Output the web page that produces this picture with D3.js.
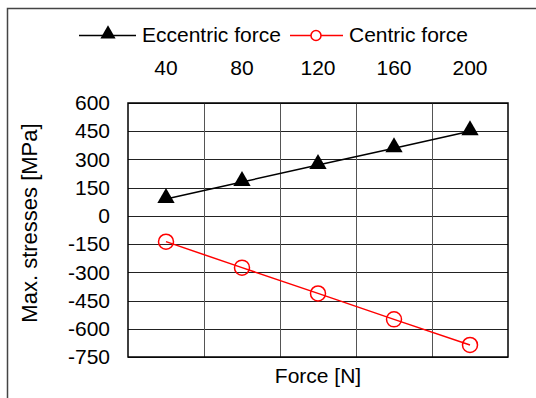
<!DOCTYPE html>
<html lang="en">
<head>
<meta charset="UTF-8">
<title>Max. stresses vs force</title>
<script src="https://d3js.org/d3.v7.min.js"></script>
<style>
    body { margin: 0; padding: 0; background: #fff; }
    svg { display: block; font-family: "Liberation Sans", Arial, sans-serif; }
    .tick text { font-size: 21px; fill: #000; }
</style>
</head>
<body>
<svg width="536" height="398"></svg>
<script>
// Data
const forces = ["40", "80", "120", "160", "200"];
const eccentric = [90, 180, 270, 360, 450];
const centric = [-137, -275, -412, -550, -686];
const yTicks = [600, 450, 300, 150, 0, -150, -300, -450, -600, -750];

const svg = d3.select("svg");
const margin = { top: 103, right: 28, bottom: 41, left: 128 };
const width = 536 - margin.left - margin.right,
      height = 398 - margin.top - margin.bottom;

// outer frame (cut off at right and bottom)
svg.append("rect")
    .attr("x", 7.5).attr("y", 8.5)
    .attr("width", 560).attr("height", 420)
    .attr("fill", "none").attr("stroke", "#444").attr("stroke-width", 1.5);

const x = d3.scaleBand().domain(forces).range([0, width]);
const y = d3.scaleLinear().domain([-750, 600]).range([height, 0]);

const g = svg.append("g").attr("transform", `translate(${margin.left},${margin.top})`);

// horizontal grid
g.append("g")
    .selectAll("line")
    .data(yTicks)
    .join("line")
    .attr("x1", 0).attr("x2", width)
    .attr("y1", d => Math.round(y(d)) + 0.5).attr("y2", d => Math.round(y(d)) + 0.5)
    .attr("stroke", "#222").attr("stroke-width", 1);

// vertical grid at band boundaries
g.append("g")
    .selectAll("line")
    .data(forces.slice(1))
    .join("line")
    .attr("x1", d => Math.round(x(d)) + 0.5).attr("x2", d => Math.round(x(d)) + 0.5)
    .attr("y1", 0).attr("y2", height)
    .attr("stroke", "#555").attr("stroke-width", 1);

// plot border
g.append("rect")
    .attr("width", width).attr("height", height)
    .attr("fill", "none").attr("stroke", "#000").attr("stroke-width", 1.5);

// y axis labels (plain hyphen for negatives)
const yAxis = g.append("g")
    .call(d3.axisLeft(y).tickValues(yTicks).tickSize(0).tickPadding(18).tickFormat(d => String(d)));
yAxis.select(".domain").remove();

// category labels on top
const xAxis = g.append("g")
    .attr("transform", "translate(0,-28)")
    .call(d3.axisTop(x).tickSize(0).tickPadding(0));
xAxis.select(".domain").remove();

const cx = d => x(d) + x.bandwidth() / 2;
const line = d3.line().x(d => cx(d[0])).y(d => y(d[1]));

const eccData = forces.map((f, i) => [f, eccentric[i]]);
const cenData = forces.map((f, i) => [f, centric[i]]);

// eccentric series
g.append("path").datum(eccData)
    .attr("d", line).attr("fill", "none")
    .attr("stroke", "#000").attr("stroke-width", 1.5);
g.append("g").selectAll("path")
    .data(eccData)
    .join("path")
    .attr("transform", d => `translate(${cx(d[0])},${y(d[1]) - 1})`)
    .attr("d", d3.symbol(d3.symbolTriangle, 130))
    .attr("fill", "#000");

// centric series
g.append("path").datum(cenData)
    .attr("d", line).attr("fill", "none")
    .attr("stroke", "#f00").attr("stroke-width", 1.5);
g.append("g").selectAll("circle")
    .data(cenData)
    .join("circle")
    .attr("cx", d => cx(d[0])).attr("cy", d => y(d[1]))
    .attr("r", 7.5)
    .attr("fill", "none").attr("stroke", "#f00").attr("stroke-width", 1.5);

// axis titles
svg.append("text")
    .attr("transform", "translate(37,223) rotate(-90)")
    .attr("text-anchor", "middle")
    .attr("font-size", 22)
    .text("Max. stresses [MPa]");

svg.append("text")
    .attr("x", 318).attr("y", 383)
    .attr("text-anchor", "middle")
    .attr("font-size", 21)
    .text("Force [N]");

// legend
const legend = svg.append("g").attr("font-size", 21);
legend.append("line").attr("x1", 79).attr("x2", 136).attr("y1", 35.5).attr("y2", 35.5)
    .attr("stroke", "#000").attr("stroke-width", 1.5);
legend.append("path").attr("transform", "translate(108,34)")
    .attr("d", d3.symbol(d3.symbolTriangle, 100)).attr("fill", "#000");
legend.append("text").attr("x", 142).attr("y", 42).text("Eccentric force");

legend.append("line").attr("x1", 290).attr("x2", 343).attr("y1", 35.5).attr("y2", 35.5)
    .attr("stroke", "#f00").attr("stroke-width", 1.5);
legend.append("circle").attr("cx", 316).attr("cy", 35.5).attr("r", 5)
    .attr("fill", "#fff").attr("stroke", "#f00").attr("stroke-width", 1.5);
legend.append("text").attr("x", 349).attr("y", 42).text("Centric force");
</script>
</body>
</html>
